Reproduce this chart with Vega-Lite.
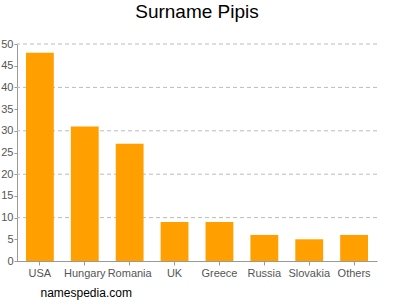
{
  "$schema": "https://vega.github.io/schema/vega-lite/v6.json",
  "width": 360,
  "height": 217,
  "autosize": {"type": "none"},
  "padding": {"left": 17, "top": 44, "right": 23, "bottom": 39},
  "background": "white",
  "title": {"text": "Surname Pipis", "font": "Liberation Sans", "fontSize": 19, "fontWeight": "normal", "color": "#000", "offset": 16, "anchor": "middle"},
  "data": {"values": [
    {"country": "USA", "count": 48},
    {"country": "Hungary", "count": 31},
    {"country": "Romania", "count": 27},
    {"country": "UK", "count": 9},
    {"country": "Greece", "count": 9},
    {"country": "Russia", "count": 6},
    {"country": "Slovakia", "count": 5},
    {"country": "Others", "count": 6}
  ]},
  "config": {"view": {"stroke": null}},
  "layer": [
    {
      "mark": {"type": "rule", "color": "#bbb", "strokeDash": [4, 3], "strokeWidth": 1},
      "data": {"values": [{"v": 10}, {"v": 20}, {"v": 30}, {"v": 40}, {"v": 50}]},
      "encoding": {"y": {"field": "v", "type": "quantitative", "scale": {"domain": [0, 50], "nice": false},
        "axis": {"title": null, "values": [0,5,10,15,20,25,30,35,40,45,50], "labelOverlap": false, "grid": false, "labelFont": "Liberation Sans", "labelFontSize": 11, "labelColor": "#555", "domainColor": "#999", "tickColor": "#999", "tickSize": 3, "labelPadding": 1}}}
    },
    {
      "mark": {"type": "bar", "color": "#ffa000"},
      "encoding": {
        "x": {"field": "country", "type": "nominal", "sort": null,
          "scale": {"paddingInner": 0.38, "paddingOuter": 0.2},
          "axis": {"title": "namespedia.com", "titleFont": "Liberation Sans", "titleFontSize": 12, "titleFontWeight": "normal", "titleColor": "#000", "titleAnchor": "start", "titleAlign": "left", "titleX": 23, "titleY": 35, "titleBaseline": "alphabetic",
            "labelAngle": 0, "labelFont": "Liberation Sans", "labelFontSize": 11, "labelColor": "#555", "domainColor": "#999", "tickColor": "#999", "tickSize": 4, "labelPadding": 2}},
        "y": {"field": "count", "type": "quantitative", "scale": {"domain": [0, 50], "nice": false},
          "axis": {"title": null, "values": [0,5,10,15,20,25,30,35,40,45,50], "labelOverlap": false, "grid": false, "labelFont": "Liberation Sans", "labelFontSize": 11, "labelColor": "#555", "domainColor": "#999", "tickColor": "#999", "tickSize": 3, "labelPadding": 1}}
      }
    }
  ]
}
